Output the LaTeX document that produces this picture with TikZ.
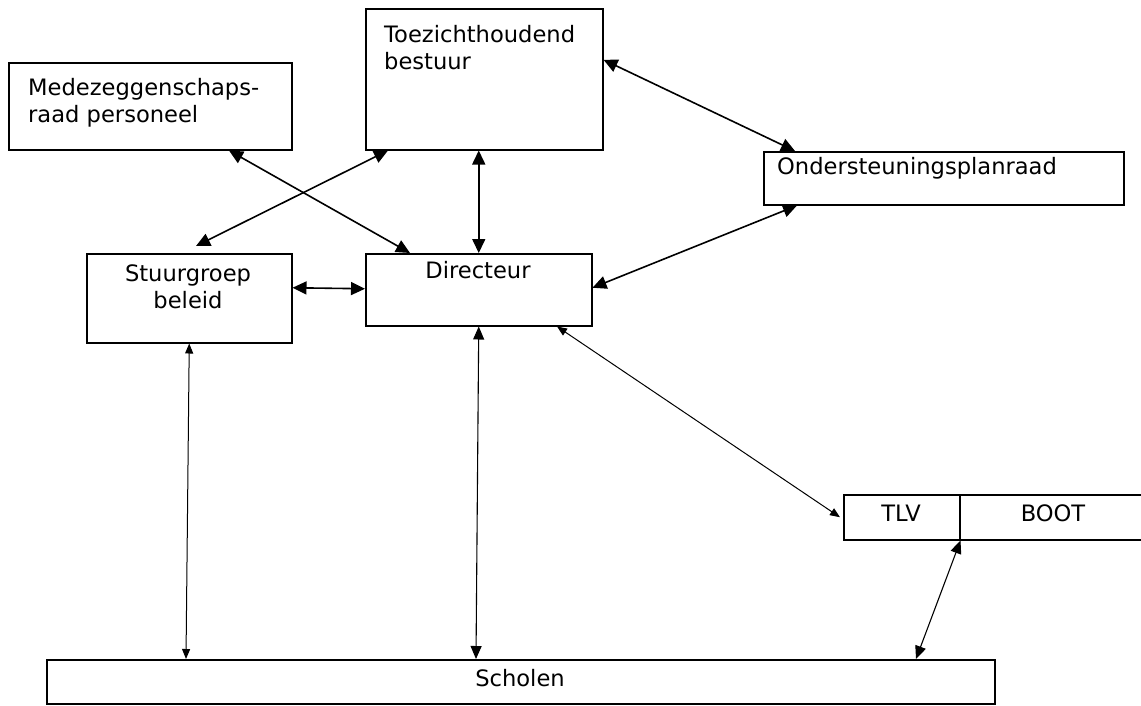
\documentclass[tikz,border=0pt]{standalone}
\usepackage{fontspec}
\setmainfont{DejaVu Sans}
\usetikzlibrary{arrows.meta}
\newcommand\txtL[2]{\vtop{\hbox{#1}\hbox{#2}}}
\newcommand\txtC[2]{\vtop{\halign{\hfil##\hfil\cr#1\cr#2\cr}}}
\begin{document}
\begin{tikzpicture}[x=1pt,y=-1pt,
  box/.style={draw, line width=1.5pt, rectangle, inner sep=0pt, anchor=north west},
  lbl/.style={inner sep=0pt, font=\fontsize{22.6}{27}\selectfont},
  big/.style={line width=1.6pt, {Triangle[length=14pt,width=13pt]}-{Triangle[length=14pt,width=13pt]}},
  mid/.style={line width=1.1pt, {Triangle[length=13pt,width=11pt]}-{Triangle[length=13pt,width=11pt]}},
  small/.style={line width=1pt, {Triangle[length=10pt,width=8pt]}-{Triangle[length=10pt,width=8pt]}}]
\clip (0,0) rectangle (1141,705);
\fill[white] (0,0) rectangle (1141,705);
% boxes
\node[box, minimum width=283pt, minimum height=87pt] (mr) at (8,62) {};
\node[box, minimum width=237pt, minimum height=141pt] (toe) at (365,8) {};
\node[box, minimum width=360pt, minimum height=53pt] (ond) at (763,151) {};
\node[box, minimum width=205pt, minimum height=89pt] (stuur) at (86,253) {};
\node[box, minimum width=226pt, minimum height=72pt] (dir) at (365,253) {};
\node[box, minimum width=116pt, minimum height=45pt] (tlv) at (843,494) {};
\node[box, minimum width=188pt, minimum height=45pt] (boot) at (959,494) {};
\node[box, minimum width=948pt, minimum height=44pt] (sch) at (46,659) {};
% labels
\node[lbl, anchor=base west] (mrt) at (28,95) {\txtL{Medezeggenschaps-}{raad personeel}};
\node[lbl, anchor=base west] (toet) at (384,42) {\txtL{Toezichthoudend}{bestuur}};
\node[lbl, anchor=base west] (ondt) at (777,174) {Ondersteuningsplanraad};
\node[lbl, anchor=base] (stuurt) at (188,281) {\txtC{Stuurgroep}{beleid}};
\node[lbl, anchor=base] (dirt) at (478,278) {Directeur};
\node[lbl, anchor=base] (tlvt) at (901,521) {TLV};
\node[lbl, anchor=base] (boott) at (1053,521) {BOOT};
\node[lbl, anchor=base] (scht) at (520,686) {Scholen};
% connectors
\draw[big] ([xshift=221pt]mr.south west) -- ([xshift=45pt]dir.north west);
\draw[big] ([xshift=23pt]toe.south west) -- ([xshift=110pt,yshift=7pt]stuur.north west);
\draw[big] ([xshift=-5.5pt]toe.south) -- (dir.north);
\draw[big] ([yshift=19.5pt]toe.east) -- ([xshift=32pt]ond.north west);
\draw[big] ([xshift=34pt]ond.south west) -- ([yshift=2pt]dir.east);
\draw[big] ([yshift=10.5pt]stuur.east) -- ([yshift=1pt]dir.west);
\draw[small] ([xshift=192pt]dir.south west) -- ([xshift=-3pt]tlv.west);
\draw[small] (stuur.south) -- ([xshift=140pt]sch.north west);
\draw[mid] (dir.south) -- ([xshift=430pt]sch.north west);
\draw[mid] (tlv.south east) -- ([xshift=870pt]sch.north west);
\end{tikzpicture}
\end{document}
